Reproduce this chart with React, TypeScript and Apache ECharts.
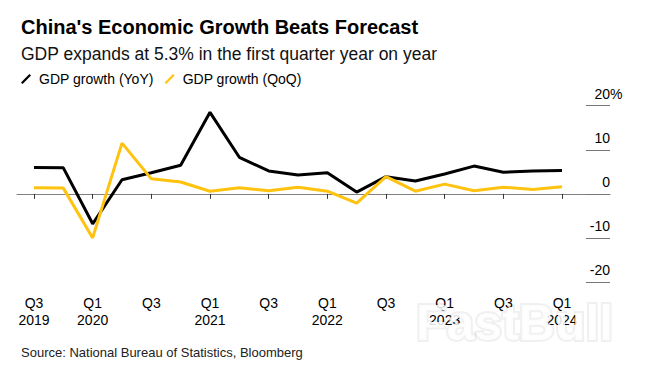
import React, { useEffect, useRef } from "react";
import * as echarts from "echarts";

const quarters = [
  "Q3 2019", "Q4 2019", "Q1 2020", "Q2 2020", "Q3 2020", "Q4 2020",
  "Q1 2021", "Q2 2021", "Q3 2021", "Q4 2021", "Q1 2022", "Q2 2022",
  "Q3 2022", "Q4 2022", "Q1 2023", "Q2 2023", "Q3 2023", "Q4 2023", "Q1 2024",
];
const gdpYoY = [6.0, 5.9, -6.8, 3.2, 4.8, 6.5, 18.5, 8.3, 5.2, 4.3, 4.8, 0.4, 3.9, 2.9, 4.5, 6.3, 4.9, 5.2, 5.3];
const gdpQoQ = [1.4, 1.3, -10.0, 11.5, 3.4, 2.7, 0.6, 1.4, 0.7, 1.5, 0.6, -2.1, 3.9, 0.6, 2.2, 0.7, 1.5, 1.0, 1.6];
const yTicks = { min: -20, max: 20, step: 10 };

const FONT = "'Liberation Sans', Arial, Helvetica, sans-serif";

export default function App() {
  const ref = useRef<HTMLDivElement>(null);
  useEffect(() => {
    const chart = echarts.init(ref.current!, null, { renderer: "svg" });
    const top = 105.7;
    const height = 176.3;
    chart.setOption({
      animation: false,
      backgroundColor: "#fff",
      textStyle: { fontFamily: FONT },
      title: [
        {
          text: "China's Economic Growth Beats Forecast",
          left: 16, top: 12,
          textStyle: { fontFamily: FONT, fontSize: 20, fontWeight: "bold", color: "#000" },
        },
        {
          text: "GDP expands at 5.3% in the first quarter year on year",
          left: 16, top: 40,
          textStyle: { fontFamily: FONT, fontSize: 17.5, fontWeight: "normal", color: "#111" },
        },
        {
          text: "Source: National Bureau of Statistics, Bloomberg",
          left: 16, top: 341,
          textStyle: { fontFamily: FONT, fontSize: 13, fontWeight: "normal", color: "#222" },
        },
      ],
      legend: {
        left: 16, top: 67,
        itemWidth: 10, itemHeight: 10, itemGap: 11,
        icon: "path://M0,8.4 L8.4,0 L10,1.6 L1.6,10 Z",
        textStyle: { fontFamily: FONT, fontSize: 14, color: "#000", padding: [0, 0, 0, 3] },
        data: ["GDP growth (YoY)", "GDP growth (QoQ)"],
      },
      grid: [
        { left: 34, width: 528, top, height },
        { left: 17, width: 593, top, height },
      ],
      xAxis: [
        {
          gridIndex: 0, type: "category", data: quarters, boundaryGap: false,
          axisLine: { show: false },
          axisTick: { show: true, interval: 1, length: 5, lineStyle: { color: "#333" } },
          axisLabel: {
            interval: 1, margin: 12, fontSize: 14, lineHeight: 17, color: "#000", fontFamily: FONT,
            formatter: (v: string, i: number) => {
              const [q, y] = v.split(" ");
              return q === "Q1" || i === 0 ? `${q}\n${y}` : q;
            },
          },
          splitLine: { show: false },
        },
        {
          gridIndex: 1, type: "value", min: 0, max: 1,
          axisLine: { show: true, onZero: true, lineStyle: { color: "#808080", width: 1 } },
          axisTick: { show: false }, axisLabel: { show: false }, splitLine: { show: false },
        },
      ],
      yAxis: [
        { gridIndex: 0, type: "value", min: yTicks.min, max: yTicks.max, show: false },
        {
          gridIndex: 1, type: "value", position: "right",
          min: yTicks.min, max: yTicks.max, interval: yTicks.step,
          axisLine: { show: false, onZero: false },
          axisTick: { show: true, inside: true, length: 24, lineStyle: { color: "#777", width: 1 } },
          splitLine: { show: false },
          axisLabel: {
            inside: true, margin: -12.5, align: "right", verticalAlign: "bottom",
            padding: [0, 0, 5, 0],
            formatter: (v: number) => (v === yTicks.max ? `{n|${v}}{p|%}` : `{n|${v}}{h|%}`),
            rich: {
              n: { fontSize: 14, color: "#000", fontFamily: FONT },
              p: { fontSize: 14, color: "#000", fontFamily: FONT },
              h: { fontSize: 14, color: "rgba(0,0,0,0)", fontFamily: FONT },
            },
          },
        },
      ],
      series: [
        {
          name: "GDP growth (YoY)", type: "line", xAxisIndex: 0, yAxisIndex: 0,
          data: gdpYoY, showSymbol: false, symbol: "none",
          lineStyle: { color: "#000", width: 3 }, itemStyle: { color: "#000" },
        },
        {
          name: "GDP growth (QoQ)", type: "line", xAxisIndex: 0, yAxisIndex: 0,
          data: gdpQoQ, showSymbol: false, symbol: "none",
          lineStyle: { color: "#FFC20E", width: 3 }, itemStyle: { color: "#FFC20E" },
        },
      ],
      graphic: [
        {
          type: "text", left: 414, top: 296, z: 100, silent: true,
          style: {
            text: "FastBull", fill: "rgba(255,255,255,0.85)",
            font: `bold 50px ${FONT}`,
            stroke: "rgba(0,0,0,0.06)", lineWidth: 4,
          },
        },
      ],
    });
    return () => chart.dispose();
  }, []);
  return (
    <div
      ref={ref}
      style={{ position: "absolute", left: 0, top: 0, width: 657, height: 381, background: "#fff" }}
    />
  );
}
